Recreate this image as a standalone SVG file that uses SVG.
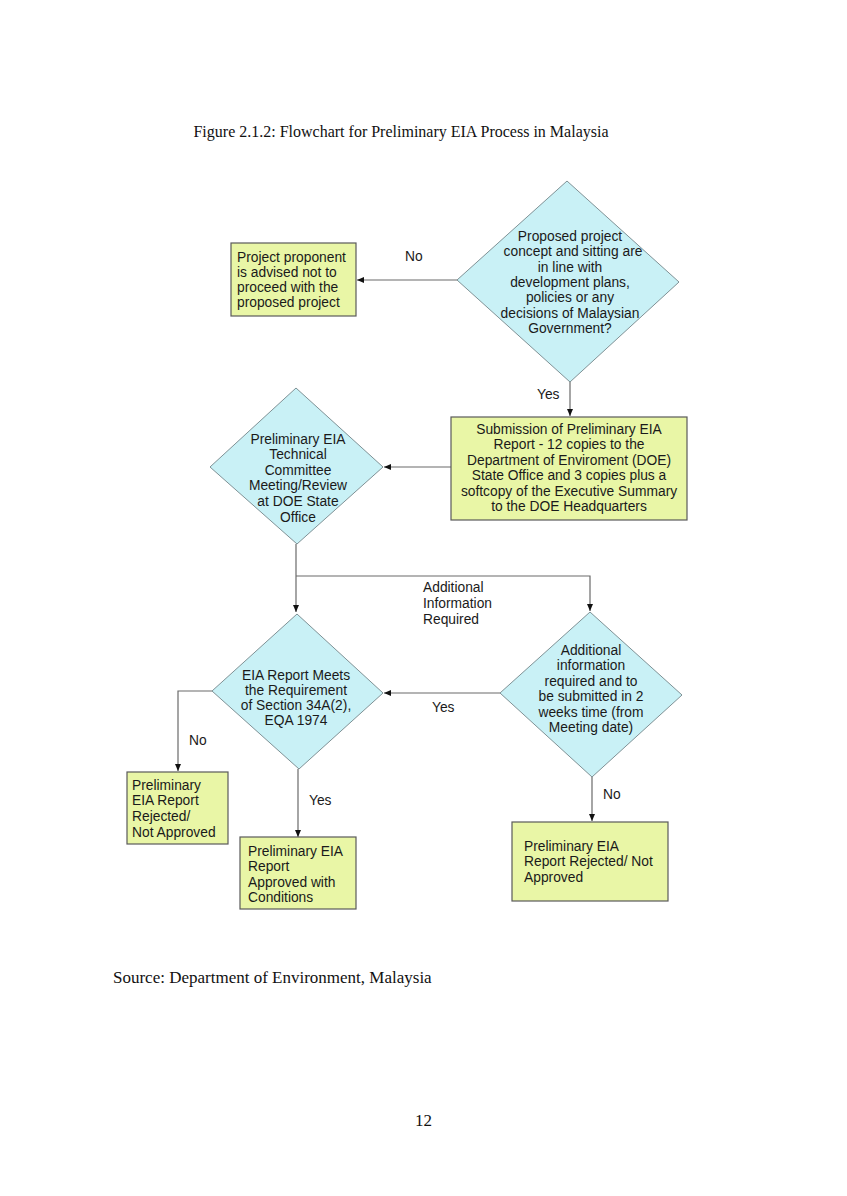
<svg xmlns="http://www.w3.org/2000/svg" width="847" height="1196" viewBox="0 0 847 1196">
<style>
.bg{fill:#ffffff}
.dia{fill:#c9f1f6;stroke:#7f9195;stroke-width:1}
.box{fill:#e9f6a6;stroke:#5a5a5a;stroke-width:1.2}
.t{font-family:"Liberation Sans",Arial,sans-serif;font-size:13.8px;fill:#1a1a1a}
.c{text-anchor:middle}
.serif{font-family:"Liberation Serif","Times New Roman",serif;font-size:16px;fill:#111}
.ln{fill:none;stroke:#6a6a6a;stroke-width:1.2}
</style>
<defs>
<marker id="ah" markerWidth="8" markerHeight="8" refX="7" refY="4" orient="auto" markerUnits="userSpaceOnUse">
<path d="M0,1 L7,4 L0,7 z" fill="#111"/>
</marker>
</defs>
<rect class="bg" x="0" y="0" width="847" height="1196"/>
<text class="serif c" x="401" y="137">Figure 2.1.2: Flowchart for Preliminary EIA Process in Malaysia</text>

<g id="connectors">
<line class="ln" x1="457" y1="280" x2="357" y2="280" marker-end="url(#ah)"/>
<line class="ln" x1="570" y1="382" x2="570" y2="416" marker-end="url(#ah)"/>
<line class="ln" x1="451" y1="467" x2="384" y2="467" marker-end="url(#ah)"/>
<line class="ln" x1="296" y1="544" x2="296" y2="612" marker-end="url(#ah)"/>
<polyline class="ln" points="296,576 590,576 590,611" marker-end="url(#ah)"/>
<line class="ln" x1="500" y1="693" x2="384" y2="693" marker-end="url(#ah)"/>
<polyline class="ln" points="212,691 178,691 178,771" marker-end="url(#ah)"/>
<line class="ln" x1="298" y1="769" x2="298" y2="837" marker-end="url(#ah)"/>
<line class="ln" x1="592" y1="777" x2="592" y2="821" marker-end="url(#ah)"/>
<text class="t" x="405" y="261">No</text>
<text class="t" x="537" y="399">Yes</text>
<text class="t" x="423" y="592">Additional</text>
<text class="t" x="423" y="608">Information</text>
<text class="t" x="423" y="624">Required</text>
<text class="t" x="432" y="712">Yes</text>
<text class="t" x="189" y="745">No</text>
<text class="t" x="309" y="805">Yes</text>
<text class="t" x="603" y="799">No</text>
</g>

<g id="decision-concept">
<polygon class="dia" points="567,181 679,282 570,382 457,280"/>
<text class="t c" x="570" y="241">Proposed project</text>
<text class="t c" x="573" y="256">concept and sitting are</text>
<text class="t c" x="570" y="272">in line with</text>
<text class="t c" x="570" y="287">development plans,</text>
<text class="t c" x="570" y="302">policies or any</text>
<text class="t c" x="570" y="318">decisions of Malaysian</text>
<text class="t c" x="570" y="333">Government?</text>
</g>

<g id="box-not-proceed">
<rect class="box" x="231" y="243" width="125" height="73"/>
<text class="t" x="237" y="262">Project proponent</text>
<text class="t" x="237" y="277">is advised not to</text>
<text class="t" x="237" y="292">proceed with the</text>
<text class="t" x="237" y="307">proposed project</text>
</g>

<g id="box-submission">
<rect class="box" x="451" y="417" width="236" height="103"/>
<text class="t c" x="569" y="434">Submission of Preliminary EIA</text>
<text class="t c" x="569" y="449">Report - 12 copies to the</text>
<text class="t c" x="569" y="465">Department of Enviroment (DOE)</text>
<text class="t c" x="569" y="480">State Office and 3 copies plus a</text>
<text class="t c" x="569" y="496">softcopy of the Executive Summary</text>
<text class="t c" x="569" y="511">to the DOE Headquarters</text>
</g>

<g id="decision-technical-committee">
<polygon class="dia" points="296,388 383,467 297,544 210,467"/>
<text class="t c" x="298" y="444">Preliminary EIA</text>
<text class="t c" x="298" y="459">Technical</text>
<text class="t c" x="298" y="475">Committee</text>
<text class="t c" x="298" y="490">Meeting/Review</text>
<text class="t c" x="298" y="506">at DOE State</text>
<text class="t c" x="298" y="522">Office</text>
</g>

<g id="decision-requirement">
<polygon class="dia" points="297,614 383,693 299,769 212,691"/>
<text class="t c" x="296" y="680">EIA Report Meets</text>
<text class="t c" x="296" y="695">the Requirement</text>
<text class="t c" x="296" y="710">of Section 34A(2),</text>
<text class="t c" x="296" y="725">EQA 1974</text>
</g>

<g id="decision-additional-info">
<polygon class="dia" points="590,612 682,695 592,777 500,693"/>
<text class="t c" x="591" y="655">Additional</text>
<text class="t c" x="591" y="670">information</text>
<text class="t c" x="591" y="686">required and to</text>
<text class="t c" x="591" y="701">be submitted in 2</text>
<text class="t c" x="591" y="717">weeks time (from</text>
<text class="t c" x="591" y="732">Meeting date)</text>
</g>

<g id="box-rejected-left">
<rect class="box" x="127" y="772" width="101" height="72"/>
<text class="t" x="132" y="790">Preliminary</text>
<text class="t" x="132" y="805">EIA Report</text>
<text class="t" x="132" y="821">Rejected/</text>
<text class="t" x="132" y="837">Not Approved</text>
</g>

<g id="box-approved">
<rect class="box" x="240" y="837" width="116" height="72"/>
<text class="t" x="248" y="856">Preliminary EIA</text>
<text class="t" x="248" y="871">Report</text>
<text class="t" x="248" y="887">Approved with</text>
<text class="t" x="248" y="902">Conditions</text>
</g>

<g id="box-rejected-right">
<rect class="box" x="512" y="822" width="156" height="79"/>
<text class="t" x="524" y="851">Preliminary EIA</text>
<text class="t" x="524" y="866">Report Rejected/ Not</text>
<text class="t" x="524" y="882">Approved</text>
</g>

<text class="serif" x="113" y="983" style="font-size:17px">Source: Department of Environment, Malaysia</text>
<text class="serif" x="415" y="1126" style="font-size:17px">12</text>
</svg>
